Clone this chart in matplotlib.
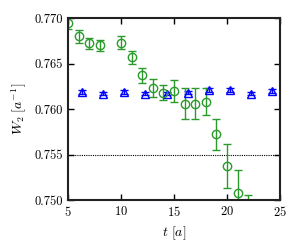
import matplotlib
matplotlib.use("Agg")
import matplotlib.pyplot as plt
import numpy as np

# Data
t_green = [5, 6, 7, 8, 10, 11, 12, 13, 14, 15, 16, 17, 18, 19, 20, 21, 22]
w_green = [0.7695, 0.7680, 0.7672, 0.7670, 0.7673, 0.7657, 0.7637, 0.7623, 0.7618,
           0.7620, 0.7606, 0.7606, 0.7608, 0.7572, 0.7537, 0.7508, 0.7478]
e_green = [0.0007, 0.0007, 0.0006, 0.0006, 0.0007, 0.0007, 0.0008, 0.0010, 0.0008,
           0.0012, 0.0017, 0.0017, 0.0015, 0.0017, 0.0024, 0.0025, 0.0028]

t_blue = [6.3, 8.3, 10.3, 12.3, 14.3, 16.3, 18.3, 20.3, 22.3, 24.3]
w_blue = [0.7619, 0.7617, 0.7619, 0.7617, 0.7617, 0.7618, 0.7621, 0.7621, 0.7617, 0.7620]
e_blue = [0.0002, 0.0002, 0.0002, 0.0002, 0.0002, 0.0002, 0.0002, 0.0002, 0.0002, 0.0002]

ref_line = 0.755

plt.rcParams['font.family'] = ['cmr10', 'DejaVu Serif']
plt.rcParams['mathtext.fontset'] = 'cm'
plt.rcParams['axes.formatter.use_mathtext'] = True

fig = plt.figure(figsize=(3.0, 2.5), dpi=100)
ax = fig.add_axes([0.227, 0.2, 0.706, 0.728])

ax.axhline(ref_line, color='black', ls=(0, (1, 1)), lw=0.8)

ax.errorbar(t_blue, w_blue, yerr=e_blue, fmt='^', mfc='none', mec='blue',
            ecolor='blue', color='blue', ms=5.5, mew=1.0, capsize=3, elinewidth=1.0)
ax.errorbar(t_green, w_green, yerr=e_green, fmt='o', mfc='none', mec='#2a9a2a',
            ecolor='#2a9a2a', color='#2a9a2a', ms=6, mew=1.0, capsize=3,
            elinewidth=1.0, clip_on=True)

ax.set_xlim(5, 25)
ax.set_ylim(0.750, 0.770)
ax.set_xticks([5, 10, 15, 20, 25])
ax.set_yticks([0.750, 0.755, 0.760, 0.765, 0.770])
ax.set_yticklabels(['0.750', '0.755', '0.760', '0.765', '0.770'])
ax.tick_params(direction='in', top=True, right=True, length=4, width=1, labelsize=9)
for s in ax.spines.values():
    s.set_linewidth(1.5)
    s.set_color('#222222')

ax.set_xlabel(r'$t\ [a]$', fontsize=10)
ax.set_ylabel(r'$W_2\ [a^{-1}]$', fontsize=10)

fig.savefig('out.png', dpi=100)
